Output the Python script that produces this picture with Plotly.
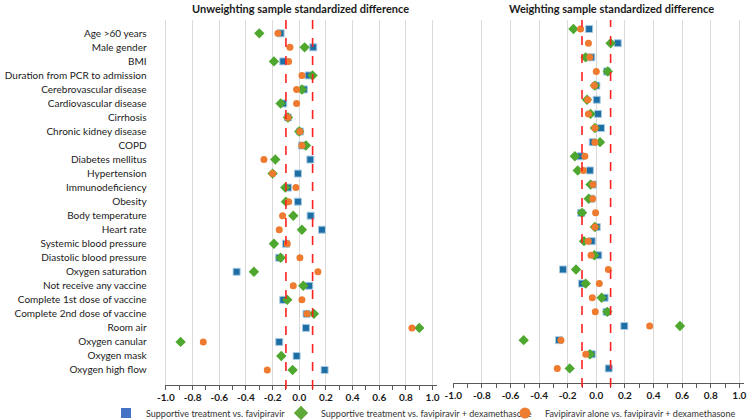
import plotly.graph_objects as go

covariates = [
    "Age >60 years", "Male gender", "BMI", "Duration from PCR to admission",
    "Cerebrovascular disease", "Cardiovascular disease", "Cirrhosis",
    "Chronic kidney disease", "COPD", "Diabetes mellitus", "Hypertension",
    "Immunodeficiency", "Obesity", "Body temperature", "Heart rate",
    "Systemic blood pressure", "Diastolic blood pressure", "Oxygen saturation",
    "Not receive any vaccine", "Complete 1st dose of vaccine",
    "Complete 2nd dose of vaccine", "Room air", "Oxygen canular",
    "Oxygen mask", "Oxygen high flow",
]

series_names = [
    "Supportive treatment vs. favipiravir",
    "Supportive treatment vs. favipiravir + dexamethasone",
    "Favipiravir alone vs. favipiravir + dexamethasone",
]

# Unweighted standardized differences
unw_blue = [-0.14, 0.105, -0.12, 0.07, 0.035, -0.12, -0.085, 0.005, 0.02,
            0.083, -0.01, -0.085, -0.01, 0.085, 0.17, -0.10, -0.15, -0.47,
            0.075, -0.12, 0.055, 0.05, -0.15, -0.02, 0.19]
unw_green = [-0.30, 0.04, -0.19, 0.10, 0.02, -0.14, -0.085, 0.0, 0.05,
             -0.18, -0.20, -0.105, -0.10, -0.045, 0.02, -0.19, -0.14, -0.34,
             0.03, -0.09, 0.11, 0.90, -0.89, -0.135, -0.05]
unw_orange = [-0.16, -0.07, -0.08, 0.02, -0.02, -0.02, -0.085, 0.005, 0.02,
              -0.265, -0.20, -0.025, -0.08, -0.125, -0.15, -0.09, 0.005, 0.14,
              -0.045, 0.02, 0.058, 0.845, -0.72, None, -0.24]

# Weighted standardized differences
w_blue = [-0.05, 0.15, -0.035, 0.075, 0.0, 0.003, 0.012, 0.033, -0.025,
          -0.11, -0.045, -0.025, -0.037, -0.105, 0.003, -0.032, 0.014, -0.233,
          -0.10, 0.058, 0.072, 0.196, -0.261, -0.032, 0.087]
w_green = [-0.16, 0.10, -0.075, 0.08, -0.01, -0.065, -0.04, -0.01, 0.026,
           -0.15, -0.13, -0.04, -0.053, -0.10, -0.01, -0.086, -0.014, -0.142,
           -0.074, 0.037, 0.077, 0.585, -0.508, -0.044, -0.186]
w_orange = [-0.11, -0.055, -0.045, 0.0, -0.015, -0.06, -0.055, -0.01, -0.01,
            -0.08, -0.09, -0.023, -0.025, -0.005, -0.01, -0.056, -0.037, 0.084,
            0.021, -0.028, -0.007, 0.373, -0.247, -0.074, -0.273]

x_tick_vals = [-1.0, -0.8, -0.6, -0.4, -0.2, 0.0, 0.2, 0.4, 0.6, 0.8, 1.0]
x_tick_text = ["-1.0", "-0.8", "-0.6", "-0.4", "-0.2", "0.0", "0.2", "0.4",
               "0.6", "0.8", "1.0"]
threshold_vals = [-0.1, 0.1]

titles = ["Unweighting sample standardized difference",
          "Weighting sample standardized difference"]

FONT = "Lato"
W, H = 750, 420
row_idx = list(range(len(covariates)))

marker_styles = [
    dict(symbol="square", size=7, color="#1d6ea5", line=dict(width=1, color="#a9cbe2")),
    dict(symbol="diamond", size=8, color="#4ea72e", line=dict(width=0)),
    dict(symbol="circle", size=7, color="#ee7b30", line=dict(width=0)),
]
legend_styles = [
    dict(symbol="square", size=10, color="#4472c4"),
    dict(symbol="diamond", size=11, color="#5fa83a"),
    dict(symbol="circle", size=11, color="#ed7d31"),
]
legend_ids = ["legend", "legend2", "legend3"]

fig = go.Figure()

panels = [("x", "y", [unw_blue, unw_green, unw_orange]),
          ("x2", "y2", [w_blue, w_green, w_orange])]
for xa, ya, vals in panels:
    for k in range(3):
        fig.add_trace(go.Scatter(
            x=vals[k], y=row_idx, mode="markers", xaxis=xa, yaxis=ya,
            marker=marker_styles[k], showlegend=False, hoverinfo="skip"))

for k in range(3):
    fig.add_trace(go.Scatter(
        x=[None], y=[None], mode="markers", name=series_names[k],
        marker=legend_styles[k], showlegend=True, legend=legend_ids[k]))

shapes = []
for xr in ["x", "x2"]:
    yd = "y domain" if xr == "x" else "y2 domain"
    for t in threshold_vals:
        shapes.append(dict(type="line", xref=xr, yref=yd, x0=t, x1=t, y0=-0.012, y1=1,
                           line=dict(color="#ff2020", width=1.6, dash="dash"), layer="above"))


def px_x(p):
    return p / W


def px_y(p):
    return 1 - p / H


common_x = dict(
    tickmode="array", tickvals=x_tick_vals, ticktext=x_tick_text, tickangle=0,
    showgrid=True, gridcolor="#d9d9d9", gridwidth=1,
    zeroline=False, showline=True, linecolor="#595959", linewidth=1.3,
    ticks="outside", ticklen=4, tickcolor="#595959", tickwidth=1,
    minor=dict(tickmode="linear", tick0=-1.0, dtick=0.1, ticks="outside",
               ticklen=4, tickcolor="#595959", showgrid=False),
    tickfont=dict(family=FONT, size=10, color="#1a1a1a", weight="bold"),
    ticklabelstandoff=-1, automargin=False,
)

legend_common = dict(orientation="h", yanchor="middle", y=px_y(413),
                     xanchor="left", font=dict(family=FONT, size=9, color="#333333"),
                     bgcolor="rgba(0,0,0,0)", itemsizing="trace")

fig.update_layout(
    width=W, height=H,
    margin=dict(l=0, r=0, t=0, b=0, autoexpand=False),
    paper_bgcolor="white", plot_bgcolor="white",
    font=dict(family=FONT, color="#1a1a1a"),
    shapes=shapes,
    xaxis=dict(domain=[px_x(164.6), px_x(436.6)], range=[-1.01, 1.03], anchor="y", **common_x),
    xaxis2=dict(domain=[px_x(453.3), px_x(743.6)], range=[-1.0, 1.03], anchor="y2", **common_x),
    yaxis=dict(domain=[px_y(384.7), px_y(20)], range=[25.05, -0.95], anchor="x",
               tickmode="array", tickvals=row_idx, ticktext=covariates,
               showgrid=False, zeroline=False, showline=False, ticks="",
               ticklabelstandoff=17, automargin=False,
               tickfont=dict(family=FONT, size=10, color="#1a1a1a")),
    yaxis2=dict(domain=[px_y(382.7), px_y(20)], range=[25.01, -0.64], anchor="x2",
                showticklabels=False, showgrid=False, zeroline=False, showline=False,
                ticks="", automargin=False),
    legend=dict(x=px_x(106), **legend_common),
    legend2=dict(x=px_x(281), **legend_common),
    legend3=dict(x=px_x(505), **legend_common),
    annotations=[
        dict(text=titles[0], x=px_x(300), y=px_y(8), xref="paper", yref="paper",
             showarrow=False, xanchor="center", yanchor="middle",
             font=dict(family=FONT, size=11, color="#1a1a1a", weight="bold")),
        dict(text=titles[1], x=px_x(611), y=px_y(8), xref="paper", yref="paper",
             showarrow=False, xanchor="center", yanchor="middle",
             font=dict(family=FONT, size=11, color="#1a1a1a", weight="bold")),
    ],
)

fig.write_html("out.html")
